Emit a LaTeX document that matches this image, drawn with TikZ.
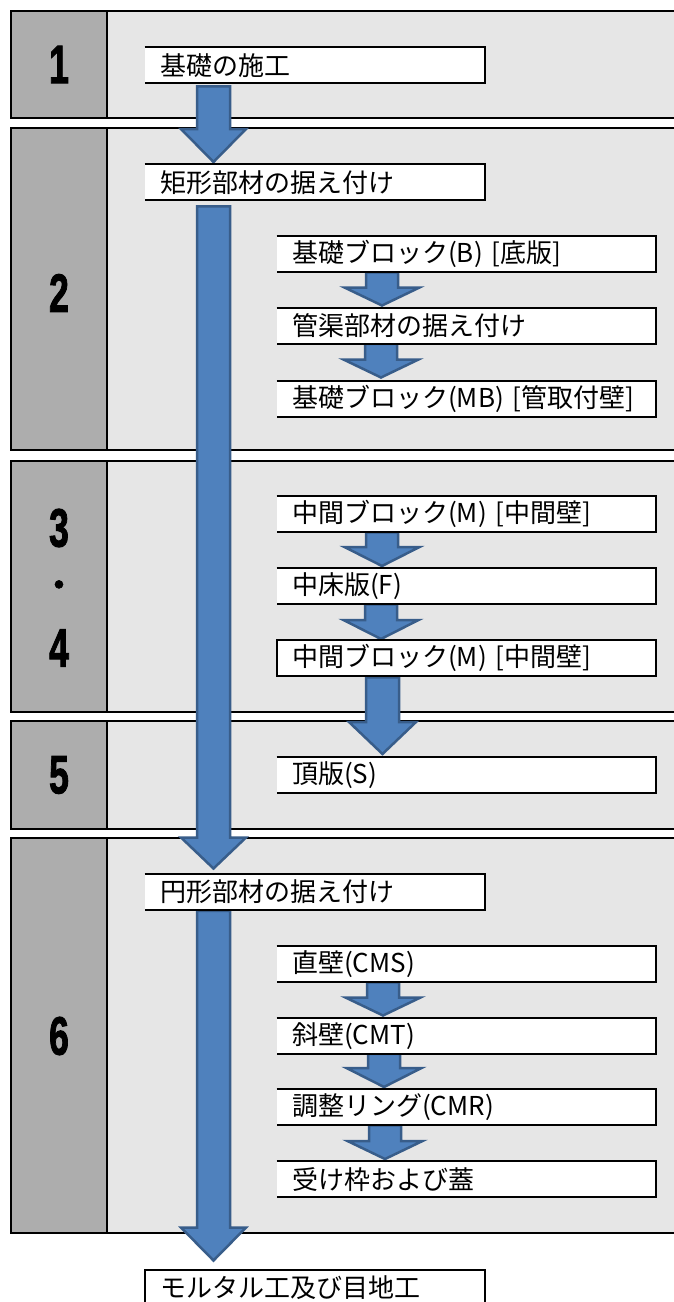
\documentclass[tikz,border=0pt]{standalone}
\usepackage{fontspec}
\setmainfont{Noto Sans CJK JP}
\newfontfamily\numfont{Liberation Sans}[FakeBold=2]
\usetikzlibrary{calc}
\pgfdeclarelayer{panellayer}
\pgfdeclarelayer{arrowlayer}
\pgfsetlayers{panellayer,arrowlayer,main}
\definecolor{panelgray}{HTML}{E6E6E6}
\definecolor{numgray}{HTML}{ADADAD}
\definecolor{arrowblue}{HTML}{4F81BD}
\definecolor{arrowedge}{HTML}{385D8A}
\tikzset{
  panelbox/.style={fill=panelgray, draw=black, line width=2pt},
  numcol/.style={fill=numgray, draw=black, line width=2pt},
  numlabel/.style={font=\numfont\bfseries\fontsize{54}{54}\selectfont, inner sep=0pt},
  lbox/.style={anchor=north west, fill=white, minimum height=36pt, text width=309.5pt,
    inner xsep=15.5pt, inner ysep=0pt, align=left, font=\fontsize{26}{29}\selectfont},
  rbox/.style={lbox, text width=348.5pt},
  blk/.style={fill=arrowblue, draw=arrowedge, line width=2.5pt, line join=miter},
  boxedge/.style={draw=black, line width=2pt},
}
% three-sided frame (open on the left)
\newcommand{\openframe}[1]{\draw[boxedge] (#1.north west) -- (#1.north east) -- (#1.south east) -- (#1.south west);}
\newcommand{\fullframe}[1]{\draw[boxedge] (#1.north west) rectangle (#1.south east);}
% block arrow: #1 src, #2 tgt, #3 x centre, #4 shaft half width, #5 head half width,
% #6 head length, #7 start gap, #8 tip gap
\newcommand{\blkarrow}[8]{%
  \path[blk] let \p1=(#1.south), \p2=(#2.north) in
    ({(#3-#4)*1pt},{\y1-#7pt}) -- ({(#3+#4)*1pt},{\y1-#7pt})
    -- ({(#3+#4)*1pt},{\y2+#8pt+#6pt}) -- ({(#3+#5)*1pt},{\y2+#8pt+#6pt})
    -- ({#3*1pt},{\y2+#8pt})
    -- ({(#3-#5)*1pt},{\y2+#8pt+#6pt}) -- ({(#3-#4)*1pt},{\y2+#8pt+#6pt}) -- cycle;}
\newcommand{\numtxt}[1]{\scalebox{0.66}[1]{#1}}
\begin{document}
\begin{tikzpicture}[x=1pt,y=-1pt]
\useasboundingbox (0,0) rectangle (674,1302);

% ---- panels ----
\begin{pgfonlayer}{panellayer}
\fill[white] (0,0) rectangle (674,1302);
\path[panelbox] (11,11) rectangle (700,118);
\path[numcol] (11,11) rectangle (107,118);
\path[panelbox] (11,128) rectangle (700,450);
\path[numcol] (11,128) rectangle (107,450);
\path[panelbox] (11,461) rectangle (700,712);
\path[numcol] (11,461) rectangle (107,712);
\path[panelbox] (11,721) rectangle (700,829);
\path[numcol] (11,721) rectangle (107,829);
\path[panelbox] (11,838) rectangle (700,1233);
\path[numcol] (11,838) rectangle (107,1233);
\end{pgfonlayer}

\node[numlabel] (n1) at (59,64.5) {\numtxt{1}};
\node[numlabel] (n2) at (59,293) {\numtxt{2}};
\node[numlabel] (n3) at (59,528) {\numtxt{3}};
\node[inner sep=0pt, font=\numfont\bfseries\fontsize{28}{28}\selectfont] (nd) at (59,587) {•};
\node[numlabel] (n4) at (59,648) {\numtxt{4}};
\node[numlabel] (n5) at (59,775) {\numtxt{5}};
\node[numlabel] (n6) at (59,1036) {\numtxt{6}};

% ---- boxes ----
\node[lbox] (b1) at (144.5,47) {基礎の施工};
\node[lbox] (b2) at (144.5,164) {矩形部材の据え付け};
\node[rbox] (r1) at (276.5,236) {基礎ブロック(B) [底版]};
\node[rbox] (r2) at (276.5,307.5) {管渠部材の据え付け};
\node[rbox] (r3) at (276.5,380.5) {基礎ブロック(MB) [管取付壁]};
\node[rbox] (r4) at (276.5,496) {中間ブロック(M) [中間壁]};
\node[rbox] (r5) at (276.5,568) {中床版(F)};
\node[rbox] (r6) at (276.5,640) {中間ブロック(M) [中間壁]};
\node[rbox] (r7) at (276.5,757) {頂版(S)};
\node[lbox] (b7) at (144.5,873.5) {円形部材の据え付け};
\node[rbox] (r8) at (276.5,946) {直壁(CMS)};
\node[rbox] (r9) at (276.5,1017.5) {斜壁(CMT)};
\node[rbox] (r10) at (276.5,1089) {調整リング(CMR)};
\node[rbox] (r11) at (276.5,1161) {受け枠および蓋};
\node[lbox] (b12) at (144.5,1269.5) {モルタル工及び目地工};

\openframe{b1}
\openframe{b2}
\openframe{r1}
\openframe{r2}
\openframe{r3}
\openframe{r4}
\openframe{r5}
\fullframe{r6}
\openframe{r7}
\openframe{b7}
\openframe{r8}
\openframe{r9}
\openframe{r10}
\openframe{r11}
\fullframe{b12}

% ---- arrows (under the boxes, over the panels) ----
\begin{pgfonlayer}{arrowlayer}
\blkarrow{b1}{b2}{213.5}{16.5}{32.5}{33}{3}{2}
\blkarrow{b2}{b7}{213.5}{16.5}{32.5}{31}{6}{5}
\blkarrow{b7}{b12}{213.5}{16.5}{32.5}{33}{1}{9}
\blkarrow{r1}{r2}{382}{16}{37.5}{18}{0}{2}
\blkarrow{r2}{r3}{381}{16}{37.5}{18}{0}{3}
\blkarrow{r4}{r5}{382}{16}{37.5}{19}{0}{2}
\blkarrow{r5}{r6}{381}{16}{37.5}{19}{0}{1}
\blkarrow{r6}{r7}{382.5}{16.5}{33.5}{32}{1}{3}
\blkarrow{r8}{r9}{383}{16}{37.5}{18}{0}{2}
\blkarrow{r9}{r10}{384}{16}{37.5}{19}{0}{2}
\blkarrow{r10}{r11}{385}{16}{37.5}{18}{0}{2}
\end{pgfonlayer}
\end{tikzpicture}
\end{document}
